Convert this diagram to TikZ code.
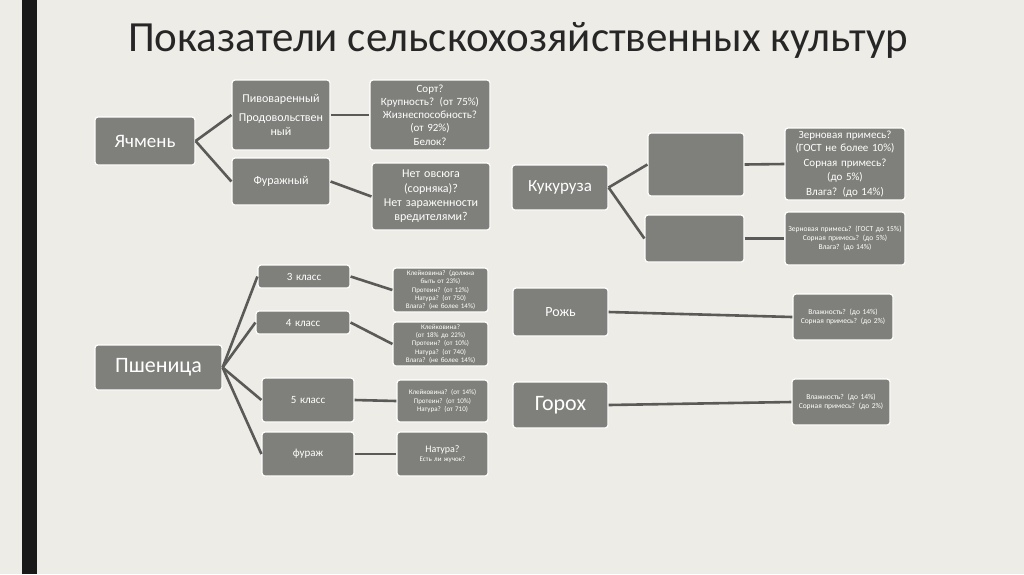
\documentclass[tikz,border=0pt]{standalone}
\usepackage{fontspec}
\setmainfont{Carlito}
\definecolor{bg}{HTML}{EEECE6}
\definecolor{bx}{HTML}{7F7F7B}
\definecolor{ln}{HTML}{5A5A58}
\newcommand{\bx}[6]{\node[box,font=\fontsize{#6}{\fpeval{#6*1.2}}\selectfont,minimum width={(#3-#2)*1pt}, minimum height={(#5-#4)*1pt},text width={(#3-#2-6)*1pt}] (#1) at ({(#2+#3)/2},{(#4+#5)/2})}
\tikzset{box/.style={draw=white,line width=1.2pt,fill=bx,rounded corners=3pt,text=white,align=center,inner sep=1pt},
 con/.style={draw=ln,line width=2.6pt}}
\begin{document}
\begin{tikzpicture}[x=1pt,y=-1pt]
\fill[bg] (0,0) rectangle (1024,574);
\fill[black!90] (22,0) rectangle (37,574);
\node[font=\fontsize{43}{45}\selectfont,text=black!85] (title) at (518,40) {Показатели сельскохозяйственных культур};
\bx{ya}{95}{195}{117}{165}{19}{Ячмень};
\bx{piv}{232}{330}{80}{150}{12}{Пивоваренный\\[4pt]Продовольствен\\ный};
\bx{fur}{232}{330}{158}{205}{12}{Фуражный};
\bx{sort}{370}{490}{80}{150}{11}{Сорт?\\Крупность? (от 75\%)\\Жизнеспособность? (от 92\%)\\Белок?};
\bx{ovs}{372}{490}{163}{230}{12}{Нет овсюга (сорняка)?\\Нет зараженности вредителями?};
\bx{psh}{95}{222}{345}{390}{22}{Пшеница};
\bx{k3}{258}{350}{265}{288}{11}{3 класс};
\bx{k4}{256}{350}{311}{334}{11}{4 класс};
\bx{k5}{262}{354}{378}{422}{11}{5 класс};
\bx{kf}{262}{354}{432}{476}{11}{фураж};
\bx{s3}{393}{488}{268}{312}{7}{Клейковина? (должна быть от 23\%)\\Протеин? (от 12\%)\\Натура? (от 750)\\Влага? (не более 14\%)};
\bx{s4}{393}{488}{322}{366}{7}{Клейковина? (от 18\% до 22\%)\\Протеин? (от 10\%)\\Натура? (от 740)\\Влага? (не более 14\%)};
\bx{s5}{397}{488}{380}{422}{7}{Клейковина? (от 14\%)\\Протеин? (от 10\%)\\Натура? (от 710)};
\bx{sf}{397}{488}{432}{476}{7}{{\fontsize{10}{12}\selectfont Натура?}\\Есть ли жучок?};
\bx{kuk}{512}{608}{165}{210}{17}{Кукуруза};
\bx{e1}{648}{744}{133}{196}{10}{};
\bx{e2}{645}{744}{215}{262}{10}{};
\bx{z1}{785}{905}{128}{200}{11}{Зерновая примесь? (ГОСТ не более 10\%)\\[2pt]Сорная примесь? (до 5\%)\\[2pt]Влага? (до 14\%)};
\bx{z2}{785}{905}{212}{265}{7.5}{Зерновая примесь? (ГОСТ до 15\%)\\Сорная примесь? (до 5\%)\\Влага? (до 14\%)};
\bx{rozh}{513}{608}{288}{336}{14}{Рожь};
\bx{rr}{793}{893}{294}{340}{7.5}{Влажность? (до 14\%)\\Сорная примесь? (до 2\%)};
\bx{gor}{513}{608}{382}{428}{22}{Горох};
\bx{gr}{792}{890}{379}{425}{7.5}{Влажность? (до 14\%)\\Сорная примесь? (до 2\%)};
\draw[con] (ya.east) -- (piv.west);
\draw[con] (ya.east) -- (fur.west);
\draw[con] (piv.east) -- (sort.west);
\draw[con] (fur.east) -- (ovs.west);
\foreach \k/\s in {k3/s3,k4/s4,k5/s5,kf/sf}{\draw[con] (psh.east) -- (\k.west); \draw[con] (\k.east) -- (\s.west);}
\draw[con] (kuk.east) -- (e1.west);
\draw[con] (kuk.east) -- (e2.west);
\draw[con] (e1.east) -- (z1.west);
\draw[con] (e2.east) -- (z2.west);
\draw[con] (rozh.east) -- (rr.west);
\draw[con] (gor.east) -- (gr.west);
\end{tikzpicture}
\end{document}
